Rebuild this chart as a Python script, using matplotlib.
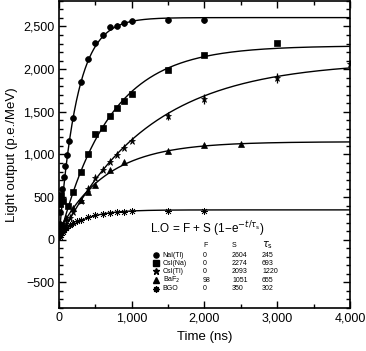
import matplotlib
matplotlib.use('Agg')
import matplotlib.pyplot as plt
import numpy as np
from matplotlib.ticker import MultipleLocator, FuncFormatter

plt.rcParams['font.family'] = ['Liberation Sans', 'DejaVu Sans']

# fit parameters: L.O = F + S (1 - exp(-t/tau))
names = ['NaI(Tl)', 'CsI(Na)', 'CsI(Tl)', 'BaF$_2$', 'BGO']
F = [0, 0, 0, 98, 0]
S = [2604, 2274, 2093, 1051, 350]
tau = [245, 693, 1220, 655, 302]
markers = ['o', 's', '*', '^', (8, 2, 0)]
msizes = [4.2, 4.2, 5.2, 4.2, 5]

t_nai = [10, 20, 30, 45, 70, 85, 105, 145, 200, 300, 400, 500, 600, 700, 800, 900, 1000, 1500, 2000]
l_nai = [180, 330, 480, 600, 730, 860, 990, 1160, 1430, 1850, 2120, 2310, 2400, 2490, 2510, 2535, 2560, 2575, 2575]
e_nai = [0, 0, 0, 0, 0, 0, 0, 0, 0, 0, 0, 0, 30, 30, 30, 30, 30, 40, 40]

t_csna = [15, 35, 60, 120, 200, 300, 400, 500, 600, 700, 800, 900, 1000, 1500, 2000, 3000]
l_csna = [420, 530, 450, 400, 560, 790, 1000, 1240, 1310, 1450, 1540, 1630, 1710, 1990, 2170, 2310]
e_csna = [0] * 16

t_cstl = [20, 50, 100, 150, 200, 300, 400, 500, 600, 700, 800, 900, 1000, 1500, 2000, 3000, 4000]
l_cstl = [60, 110, 180, 250, 320, 450, 590, 720, 820, 906, 996, 1074, 1161, 1447, 1651, 1898, 2062]
e_cstl = [0, 0, 0, 0, 0, 0, 0, 0, 0, 0, 0, 0, 0, 40, 60, 60, 80]

t_baf = [20, 50, 100, 200, 300, 400, 500, 700, 900, 1500, 2000, 2500]
l_baf = [130, 180, 250, 370, 470, 560, 640, 820, 906, 1035, 1106, 1126]
e_baf = [0] * 12

t_bgo = [10, 25, 50, 75, 100, 150, 200, 250, 300, 400, 500, 600, 700, 800, 900, 1000, 1500, 2000]
l_bgo = [30, 60, 95, 115, 133, 170, 195, 220, 235, 262, 290, 302, 312, 320, 330, 337, 342, 342]
e_bgo = [0] * 18

series = [(t_nai, l_nai, e_nai), (t_csna, l_csna, e_csna), (t_cstl, l_cstl, e_cstl),
          (t_baf, l_baf, e_baf), (t_bgo, l_bgo, e_bgo)]

fig = plt.figure(figsize=(3.66, 3.51), dpi=100)
ax = fig.add_axes([0.161, 0.1225, 0.795, 0.875])

tt = np.linspace(0, 4000, 800)
for i in range(5):
    ax.plot(tt, F[i] + S[i] * (1 - np.exp(-tt / tau[i])), color='black', lw=1.0, zorder=2)
    t, l, e = series[i]
    ax.errorbar(t, l, yerr=e, fmt='none', ecolor='black', elinewidth=0.9, capsize=0, zorder=3)
    ax.plot(t, l, linestyle='none', marker=markers[i], ms=msizes[i], color='black',
            mec='black', mew=0.5, zorder=4)

ax.set_xlim(0, 4000)
ax.set_ylim(-800, 2800)
ax.xaxis.set_major_locator(MultipleLocator(1000))
ax.xaxis.set_minor_locator(MultipleLocator(500))
ax.yaxis.set_major_locator(MultipleLocator(500))
ax.yaxis.set_minor_locator(MultipleLocator(100))
fmt = FuncFormatter(lambda v, p: ('{:,.0f}'.format(v)).replace('-', '\u2212'))
ax.xaxis.set_major_formatter(fmt)
ax.yaxis.set_major_formatter(fmt)
ax.tick_params(which='both', direction='in', top=True, right=True, labelsize=9, pad=3)
ax.tick_params(which='major', length=5, width=1)
ax.tick_params(which='minor', length=3, width=1)
for sp in ax.spines.values():
    sp.set_linewidth(1.2)

ax.set_xlabel('Time (ns)', fontsize=9.5, labelpad=5)
ax.set_ylabel('Light output (p.e./MeV)', fontsize=9.5, labelpad=4)

# formula and table of fit parameters
ax.text(0.313, 0.256, 'L.O = F + S (1\u2212e$^{\u2212t/\\tau_{\\rm s}}$)', transform=ax.transAxes,
        fontsize=8.5, va='center', ha='left')
ax.text(0.495, 0.205, 'F', transform=ax.transAxes, fontsize=5, va='center')
ax.text(0.595, 0.205, 'S', transform=ax.transAxes, fontsize=5, va='center')
ax.text(0.698, 0.205, '$\\tau_{\\rm s}$', transform=ax.transAxes, fontsize=7, va='center')
rows_y = [0.172, 0.146, 0.120, 0.091, 0.062]
for i in range(5):
    y = rows_y[i]
    ax.plot([0.333], [y], marker=markers[i], ms=msizes[i] - 0.5, color='black', transform=ax.transAxes,
            clip_on=False, linestyle='none')
    ax.text(0.357, y, names[i], transform=ax.transAxes, fontsize=5, va='center')
    ax.text(0.495, y, str(F[i]), transform=ax.transAxes, fontsize=5, va='center')
    ax.text(0.595, y, str(S[i]), transform=ax.transAxes, fontsize=5, va='center')
    ax.text(0.698, y, str(tau[i]), transform=ax.transAxes, fontsize=5, va='center')

fig.savefig('out.png', dpi=100)
